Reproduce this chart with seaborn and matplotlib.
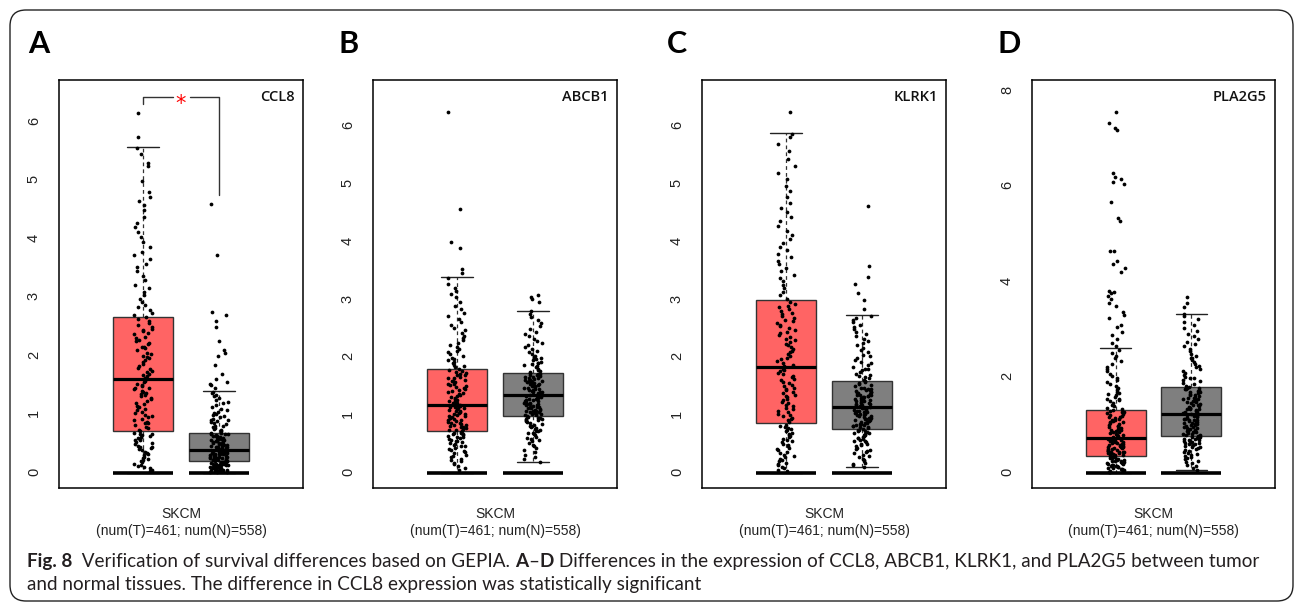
import numpy as np
import pandas as pd
import matplotlib
matplotlib.use("Agg")
import matplotlib.pyplot as plt
import seaborn as sns
from matplotlib.patches import FancyBboxPatch
from matplotlib.transforms import IdentityTransform

# ---------------- data ----------------
genes = ["CCL8", "ABCB1", "KLRK1", "PLA2G5"]
panel_letters = ["A", "B", "C", "D"]
cancer_label = "SKCM"
count_label = "(num(T)=461; num(N)=558)"
sig_text = ["*", "", "", ""]

y_ticks = [[0, 1, 2, 3, 4, 5, 6], [0, 1, 2, 3, 4, 5, 6],
           [0, 1, 2, 3, 4, 5, 6], [0, 2, 4, 6, 8]]
y_lims = [(-0.256, 6.718), (-0.26, 6.811), (-0.26, 6.811), (-0.314, 8.23)]

# box statistics: tumour (red) and normal (grey)
tumor_q1 = [0.72, 0.72, 0.86, 0.36]
tumor_med = [1.60, 1.18, 1.83, 0.73]
tumor_q3 = [2.67, 1.81, 2.99, 1.32]
tumor_lo = [0.0, 0.0, 0.0, 0.0]
tumor_hi = [5.57, 3.40, 5.90, 2.61]
normal_q1 = [0.20, 0.99, 0.77, 0.78]
normal_med = [0.40, 1.36, 1.15, 1.24]
normal_q3 = [0.69, 1.74, 1.59, 1.81]
normal_lo = [0.0, 0.19, 0.11, 0.06]
normal_hi = [1.40, 2.81, 2.74, 3.34]

# individual expression values (log2(TPM+1)), estimated from the point clouds
ccl8_tumor = [0.03,0.06,0.08,0.11,0.12,0.16,0.19,0.21,0.23,0.26,0.28,0.3,0.33,0.35,0.36,0.39,0.41,0.44,0.45,0.47,0.5,0.51,0.53,0.56,0.57,0.6,0.62,0.63,0.66,0.67,0.69,0.71,0.14,0.24,0.42,0.58,0.65,
              0.74,0.77,0.79,0.82,0.85,0.86,0.9,0.92,0.95,0.97,1.0,1.03,1.05,1.08,1.1,1.13,1.15,1.18,1.2,1.23,1.26,1.28,1.31,1.33,1.36,1.38,1.41,1.43,1.46,1.48,1.51,1.53,1.56,1.58,0.88,1.12,1.35,1.45,
              1.62,1.65,1.68,1.7,1.73,1.77,1.8,1.83,1.86,1.9,1.93,1.96,2.0,2.03,2.06,2.1,2.13,2.16,2.2,2.23,2.27,2.3,2.33,2.37,2.4,2.43,2.47,2.5,2.53,2.57,2.6,2.64,2.66,1.75,1.98,2.25,2.45,2.15,
              2.7,2.74,2.79,2.83,2.88,2.93,2.98,3.04,3.1,3.16,3.22,3.3,3.37,3.45,3.52,3.58,3.66,3.72,3.78,3.86,3.95,4.03,4.12,4.2,4.28,4.38,4.5,4.58,4.65,4.72,4.8,5.0,5.25,5.3,5.45,5.56,
              5.75,6.15]
ccl8_normal = [0.01,0.02,0.03,0.03,0.04,0.05,0.05,0.06,0.07,0.07,0.08,0.09,0.09,0.1,0.11,0.11,0.12,0.13,0.13,0.14,0.14,0.15,0.15,0.16,0.16,0.17,0.17,0.18,0.18,0.19,0.19,0.2,0.02,0.04,0.06,0.08,0.1,0.12,0.14,0.16,
               0.2,0.21,0.21,0.22,0.23,0.23,0.24,0.25,0.25,0.26,0.27,0.27,0.28,0.29,0.29,0.3,0.31,0.31,0.32,0.33,0.33,0.34,0.35,0.35,0.36,0.37,0.37,0.38,0.39,0.39,0.22,0.24,0.26,0.28,0.3,0.32,0.34,0.36,0.38,0.4,
               0.41,0.42,0.43,0.44,0.45,0.46,0.47,0.48,0.49,0.5,0.51,0.52,0.53,0.54,0.55,0.56,0.57,0.58,0.59,0.6,0.61,0.62,0.63,0.64,0.65,0.66,0.67,0.68,0.42,0.45,0.48,0.51,0.54,0.57,0.6,0.63,0.66,0.69,0.44,0.5,
               0.71,0.73,0.75,0.77,0.79,0.81,0.83,0.85,0.87,0.89,0.91,0.93,0.95,0.97,0.99,1.01,1.03,1.05,1.08,1.1,1.13,1.16,1.19,1.22,1.25,1.28,1.31,1.34,1.37,1.39,0.8,0.9,
               1.45,1.5,1.52,1.55,1.6,1.7,1.85,2.0,2.05,2.1,2.25,2.5,2.6,2.7,2.75,3.73,4.6]
abcb1_tumor = [0.05,0.08,0.12,0.15,0.18,0.2,0.22,0.25,0.27,0.3,0.32,0.34,0.36,0.38,0.4,0.42,0.44,0.46,0.47,0.49,0.5,0.52,0.53,0.55,0.56,0.58,0.59,0.6,0.62,0.63,0.64,0.66,0.67,0.68,0.69,0.7,0.71,
               0.73,0.74,0.75,0.77,0.78,0.79,0.8,0.82,0.83,0.84,0.86,0.87,0.88,0.9,0.91,0.92,0.94,0.95,0.96,0.98,0.99,1.0,1.02,1.03,1.04,1.06,1.07,1.08,1.1,1.11,1.12,1.13,1.14,1.15,1.16,1.17,0.85,0.97,
               1.19,1.21,1.22,1.24,1.25,1.27,1.29,1.3,1.32,1.34,1.35,1.37,1.39,1.4,1.42,1.44,1.45,1.47,1.49,1.5,1.52,1.54,1.55,1.57,1.59,1.6,1.62,1.64,1.65,1.67,1.69,1.7,1.72,1.74,1.75,1.77,1.79,1.8,
               1.83,1.85,1.88,1.9,1.93,1.95,1.98,2.0,2.03,2.06,2.09,2.12,2.15,2.18,2.22,2.26,2.3,2.34,2.38,2.42,2.47,2.52,2.57,2.62,2.67,2.72,2.78,2.84,2.9,2.97,3.05,3.1,3.15,3.2,3.28,3.38,
               3.47,3.53,3.9,4.0,4.57,6.25]
abcb1_normal = [0.19,0.25,0.28,0.32,0.36,0.4,0.43,0.46,0.49,0.52,0.55,0.57,0.59,0.61,0.63,0.65,0.67,0.69,0.7,0.72,0.73,0.75,0.76,0.78,0.79,0.81,0.82,0.84,0.85,0.87,0.88,0.9,0.91,0.92,0.93,0.94,0.95,0.96,0.97,0.98,
                1.0,1.01,1.02,1.03,1.04,1.05,1.06,1.07,1.08,1.09,1.1,1.11,1.12,1.13,1.14,1.15,1.16,1.17,1.18,1.19,1.2,1.21,1.22,1.23,1.24,1.25,1.26,1.27,1.28,1.29,1.3,1.31,1.32,1.33,1.34,1.35,1.02,1.08,1.14,1.2,
                1.37,1.38,1.39,1.4,1.41,1.42,1.43,1.44,1.45,1.46,1.47,1.48,1.49,1.5,1.51,1.52,1.53,1.54,1.55,1.56,1.57,1.58,1.59,1.6,1.61,1.62,1.63,1.64,1.65,1.66,1.67,1.68,1.69,1.7,1.71,1.72,1.73,1.4,1.5,1.6,
                1.75,1.77,1.79,1.81,1.83,1.85,1.87,1.89,1.91,1.93,1.95,1.97,1.99,2.01,2.03,2.06,2.09,2.12,2.15,2.18,2.21,2.25,2.29,2.33,2.37,2.41,2.45,2.5,2.55,2.6,2.65,2.7,2.75,2.8,1.9,2.0,
                2.97,3.02,3.05,3.08]
klrk1_tumor = [0.03,0.05,0.08,0.1,0.13,0.15,0.18,0.2,0.22,0.25,0.27,0.3,0.32,0.34,0.37,0.39,0.41,0.44,0.46,0.48,0.5,0.53,0.55,0.57,0.59,0.62,0.64,0.66,0.68,0.7,0.72,0.74,0.76,0.78,0.8,0.82,0.84,
               0.88,0.91,0.93,0.96,0.98,1.01,1.03,1.06,1.08,1.11,1.13,1.16,1.18,1.21,1.23,1.26,1.28,1.31,1.33,1.36,1.38,1.41,1.43,1.46,1.48,1.51,1.53,1.56,1.58,1.61,1.63,1.66,1.68,1.71,1.73,1.76,1.78,1.81,
               1.85,1.88,1.91,1.94,1.97,2.0,2.03,2.06,2.09,2.12,2.15,2.18,2.21,2.24,2.27,2.3,2.33,2.36,2.39,2.42,2.45,2.48,2.51,2.54,2.57,2.6,2.63,2.66,2.69,2.72,2.75,2.78,2.81,2.84,2.87,2.9,2.93,2.97,
               3.02,3.08,3.14,3.2,3.26,3.32,3.38,3.44,3.5,3.56,3.62,3.68,3.74,3.8,3.86,3.92,3.98,4.05,4.12,4.2,4.28,4.36,4.44,4.52,4.6,4.68,4.78,4.88,4.98,5.1,5.2,5.32,5.45,5.58,5.7,5.82,5.88,
               6.25]
klrk1_normal = [0.11,0.13,0.16,0.18,0.2,0.23,0.25,0.27,0.3,0.32,0.34,0.36,0.38,0.4,0.42,0.44,0.46,0.48,0.5,0.51,0.53,0.55,0.56,0.58,0.59,0.61,0.62,0.64,0.65,0.66,0.68,0.69,0.7,0.71,0.72,0.73,0.74,0.75,0.76,0.6,
                0.78,0.79,0.8,0.81,0.82,0.83,0.84,0.85,0.86,0.87,0.88,0.89,0.9,0.91,0.92,0.93,0.94,0.95,0.96,0.97,0.98,0.99,1.0,1.01,1.02,1.03,1.04,1.05,1.06,1.07,1.08,1.09,1.1,1.11,1.12,1.13,1.14,0.85,0.95,1.05,
                1.16,1.17,1.18,1.19,1.2,1.21,1.22,1.23,1.24,1.25,1.26,1.27,1.28,1.29,1.3,1.31,1.32,1.33,1.34,1.35,1.36,1.37,1.38,1.39,1.4,1.41,1.42,1.43,1.44,1.45,1.46,1.47,1.48,1.5,1.52,1.54,1.56,1.58,1.25,1.35,
                1.6,1.62,1.64,1.66,1.68,1.7,1.72,1.75,1.78,1.81,1.84,1.87,1.9,1.93,1.96,1.99,2.02,2.05,2.09,2.13,2.17,2.21,2.25,2.29,2.33,2.37,2.41,2.45,2.49,2.53,2.57,2.61,2.65,2.69,2.72,1.8,
                2.85,2.99,3.12,3.28,3.4,3.59,4.63]
pla2g5_tumor = [0.02,0.03,0.04,0.05,0.06,0.07,0.08,0.09,0.1,0.11,0.12,0.13,0.14,0.15,0.16,0.17,0.18,0.19,0.2,0.21,0.22,0.23,0.24,0.25,0.26,0.27,0.28,0.29,0.3,0.31,0.32,0.33,0.34,0.35,0.05,0.15,0.25,
                0.37,0.38,0.39,0.4,0.41,0.42,0.43,0.44,0.45,0.46,0.47,0.48,0.49,0.5,0.51,0.52,0.53,0.54,0.55,0.56,0.57,0.58,0.59,0.6,0.61,0.62,0.63,0.64,0.65,0.66,0.67,0.68,0.69,0.7,0.71,0.72,0.45,0.55,
                0.74,0.76,0.77,0.79,0.8,0.82,0.83,0.85,0.86,0.88,0.9,0.91,0.93,0.94,0.96,0.98,0.99,1.01,1.02,1.04,1.06,1.07,1.09,1.1,1.12,1.14,1.15,1.17,1.18,1.2,1.22,1.23,1.25,1.27,1.28,1.3,1.31,0.95,
                1.34,1.37,1.4,1.43,1.46,1.5,1.53,1.56,1.6,1.63,1.67,1.7,1.74,1.78,1.82,1.86,1.9,1.94,1.98,2.03,2.08,2.13,2.18,2.23,2.28,2.34,2.4,2.46,2.52,2.58,1.55,1.65,
                2.65,2.72,2.8,2.9,2.95,3.05,3.1,3.25,3.3,3.38,3.5,3.55,3.65,3.7,3.78,3.8,3.82,4.2,4.3,4.38,4.45,4.65,4.65,5.28,5.33,5.67,6.05,6.1,6.15,6.2,6.29,7.18,7.22,7.32,7.55]
pla2g5_normal = [0.06,0.1,0.14,0.17,0.2,0.23,0.26,0.29,0.31,0.34,0.36,0.38,0.4,0.42,0.44,0.46,0.48,0.5,0.52,0.54,0.55,0.57,0.58,0.6,0.61,0.63,0.64,0.65,0.67,0.68,0.69,0.7,0.71,0.72,0.73,0.74,0.75,0.76,0.77,0.62,
                 0.79,0.8,0.81,0.82,0.84,0.85,0.86,0.87,0.89,0.9,0.91,0.92,0.94,0.95,0.96,0.97,0.99,1.0,1.01,1.02,1.04,1.05,1.06,1.07,1.09,1.1,1.11,1.12,1.14,1.15,1.16,1.17,1.19,1.2,1.21,1.22,1.23,0.88,1.03,1.13,
                 1.25,1.27,1.28,1.3,1.31,1.33,1.34,1.36,1.37,1.39,1.4,1.42,1.43,1.45,1.46,1.48,1.49,1.51,1.52,1.54,1.55,1.57,1.58,1.6,1.61,1.63,1.64,1.66,1.67,1.69,1.7,1.72,1.73,1.75,1.76,1.78,1.79,1.8,1.35,1.5,
                 1.83,1.86,1.89,1.92,1.95,1.98,2.01,2.05,2.09,2.13,2.17,2.21,2.25,2.29,2.33,2.37,2.41,2.45,2.5,2.55,2.6,2.65,2.7,2.75,2.8,2.86,2.92,2.98,3.04,3.1,3.16,3.22,3.28,3.32,2.0,2.4,
                 3.48,3.57,3.69]

tumor_points = [ccl8_tumor, abcb1_tumor, klrk1_tumor, pla2g5_tumor]
normal_points = [ccl8_normal, abcb1_normal, klrk1_normal, pla2g5_normal]

caption_line1 = [("Fig. 8", "bold"),
                 ("  Verification of survival differences based on GEPIA. ", "normal"),
                 ("A", "bold"), ("\u2013", "normal"), ("D", "bold"),
                 (" Differences in the expression of CCL8, ABCB1, KLRK1, and PLA2G5 between tumor", "normal")]
caption_line2 = [("and normal tissues. The difference in CCL8 expression was statistically significant", "normal")]

# ---------------- style / layout ----------------
sns.set_theme(style="white")
plt.rcParams["font.family"] = ["Liberation Sans", "DejaVu Sans"]
np.random.seed(8)

W, H = 1295, 602
fig = plt.figure(figsize=(W / 100, H / 100), dpi=100)
fig.patch.set_facecolor("white")

TUMOR_COLOR = "#FF6464"
NORMAL_COLOR = "#7F7F7F"
BOX_W = 0.79
ax_left_px = [59, 373, 702, 1032]
ax_w_px = [244, 244, 244, 243]
letter_x_px = [28, 338, 667, 997]
TOP_PX, BOT_PX = 80, 488
sig_bracket = (6.43, 6.31, 4.75)   # bracket top, left drop, right drop

for i in range(4):
    ax = fig.add_axes([ax_left_px[i] / W, 1 - BOT_PX / H,
                       ax_w_px[i] / W, (BOT_PX - TOP_PX) / H])
    t_vals, n_vals = tumor_points[i], normal_points[i]
    df = pd.DataFrame({"pos": [0] * len(t_vals) + [1] * len(n_vals),
                       "value": t_vals + n_vals})

    stats = [dict(med=tumor_med[i], q1=tumor_q1[i], q3=tumor_q3[i],
                  whislo=tumor_lo[i], whishi=tumor_hi[i], fliers=[]),
             dict(med=normal_med[i], q1=normal_q1[i], q3=normal_q3[i],
                  whislo=normal_lo[i], whishi=normal_hi[i], fliers=[])]
    bp = ax.bxp(stats, positions=[0, 1], widths=BOX_W, capwidths=BOX_W * 0.52,
                patch_artist=True, showfliers=False, manage_ticks=False,
                boxprops=dict(linewidth=1.0, edgecolor="#333333"),
                medianprops=dict(color="black", linewidth=2.3, solid_capstyle="butt"),
                whiskerprops=dict(color="#333333", linewidth=0.9, linestyle=(0, (3, 2.5))),
                capprops=dict(color="#222222", linewidth=1.0), zorder=1.5)
    for patch, c in zip(bp["boxes"], [TUMOR_COLOR, NORMAL_COLOR]):
        patch.set_facecolor(c)

    sns.stripplot(data=df, x="pos", y="value", native_scale=True, jitter=0.12,
                  color="black", size=2.7, linewidth=0, ax=ax, zorder=3)

    ax.hlines([0, 0], [-BOX_W / 2, 1 - BOX_W / 2], [BOX_W / 2, 1 + BOX_W / 2],
              colors="black", linewidth=2.6, zorder=4)

    ax.set_xlim(-1.105, 2.105)
    ax.set_ylim(*y_lims[i])
    ax.set_yticks(y_ticks[i])
    ax.set_yticklabels([str(v) for v in y_ticks[i]])
    ax.set_xticks([0.5])
    ax.set_xticklabels([cancer_label + "\n" + count_label])
    ax.set_xlabel("")
    ax.set_ylabel("")
    ax.tick_params(axis="both", direction="out", length=5, width=0.9,
                   color="black", labelsize=10.5, labelcolor="#222222")
    ax.tick_params(axis="y", labelrotation=90, pad=8)
    ax.tick_params(axis="x", pad=9, labelsize=10)
    for sp in ax.spines.values():
        sp.set_visible(True)
        sp.set_color("black")
        sp.set_linewidth(1.1)

    ax.text(1 - 8 / ax_w_px[i], 1 - 17 / (BOT_PX - TOP_PX), genes[i],
            transform=ax.transAxes, ha="right", va="center", fontsize=10.5,
            family=["Open Sans", "DejaVu Sans"], fontweight="semibold", color="#111111")
    fig.text(letter_x_px[i] / W, 1 - 53 / H, panel_letters[i], ha="left",
             va="baseline", fontsize=22, fontweight="bold",
             family=["Lato", "DejaVu Sans"], color="black")

    if sig_text[i]:
        top, ldrop, rdrop = sig_bracket
        ax.plot([0, 0, 0.4], [ldrop, top, top], color="#333333", lw=1.0, zorder=5)
        ax.plot([0.62, 1, 1], [top, top, rdrop], color="#333333", lw=1.0, zorder=5)
        ax.text(0.5, top - 0.12, sig_text[i], color="red", ha="center", va="center",
                fontsize=15, family="DejaVu Sans", zorder=6)

# ---------------- caption ----------------
renderer = fig.canvas.get_renderer()
CAP_FAMILY = ["Lato", "DejaVu Sans"]
CAP_COLOR = "#231F20"


def seg_width(s, weight, size):
    t1 = fig.text(0, 0, "|" + s + "|", fontsize=size, fontweight=weight, family=CAP_FAMILY)
    t2 = fig.text(0, 0, "||", fontsize=size, fontweight=weight, family=CAP_FAMILY)
    w = t1.get_window_extent(renderer).width - t2.get_window_extent(renderer).width
    t1.remove()
    t2.remove()
    return w


base = 10.0
total = sum(seg_width(s, w, base) for s, w in caption_line1)
cap_size = base * (1225.0 / total)


def draw_line(segs, y_px):
    x = 27.0
    for s, w in segs:
        fig.text(x / W, 1 - y_px / H, s, fontsize=cap_size, fontweight=w,
                 family=CAP_FAMILY, color=CAP_COLOR, ha="left", va="baseline")
        x += seg_width(s, w, cap_size)


draw_line(caption_line1, 567)
draw_line(caption_line2, 590)

# ---------------- rounded frame ----------------
frame = FancyBboxPatch((10, 1), 1283, 591, boxstyle="round,pad=0,rounding_size=16",
                       transform=IdentityTransform(), fill=False,
                       edgecolor="#222222", linewidth=1.0)
fig.add_artist(frame)

fig.savefig("out.png", dpi=100, facecolor="white")
